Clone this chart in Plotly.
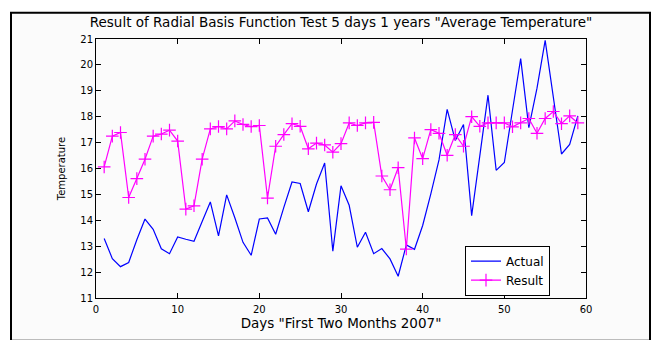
import plotly.graph_objects as go

# Days of the first two months of 2007
days = list(range(1, 60))

# Observed daily average temperature
actual = [
    13.30, 12.52, 12.21, 12.37, 13.25, 14.05, 13.65, 12.90, 12.71, 13.36,
    13.27, 13.19, 13.95, 14.71, 13.40, 14.98, 14.10, 13.15, 12.65, 14.05,
    14.09, 13.46, 14.50, 15.48, 15.42, 14.33, 15.40, 16.21, 12.81, 15.33,
    14.58, 12.96, 13.54, 12.71, 12.91, 12.51, 11.84, 13.05, 12.88, 13.80,
    15.02, 16.33, 18.28, 17.08, 17.70, 14.18, 16.50, 18.83, 15.93, 16.23,
    18.25, 20.24, 17.58, 19.10, 20.95, 18.70, 16.56, 16.93, 18.03,
]

# Radial basis function network output
result = [
    16.06, 17.25, 17.39, 14.88, 15.61, 16.36, 17.25, 17.33, 17.48, 17.06,
    14.43, 14.56, 16.36, 17.53, 17.62, 17.53, 17.84, 17.70, 17.62, 17.66,
    14.86, 16.86, 17.31, 17.73, 17.63, 16.76, 16.98, 16.91, 16.63, 16.96,
    17.76, 17.66, 17.76, 17.78, 15.71, 15.18, 16.03, 12.89, 17.18, 16.38,
    17.50, 17.36, 16.51, 17.31, 16.86, 18.00, 17.63, 17.76, 17.76, 17.76,
    17.61, 17.76, 17.93, 17.36, 17.93, 18.20, 17.73, 18.03, 17.76,
]

x_ticks = [0, 10, 20, 30, 40, 50, 60]
y_ticks = list(range(11, 22))

FONT = "DejaVu Sans"
W, H = 652, 340
ML, MR, MT, MB = 96, 66, 39, 34
PW, PH = W - ML - MR, H - MT - MB


def px_x(p):
    return (p - ML) / PW


def px_y(p):
    return (H - MB - p) / PH


fig = go.Figure()
fig.add_trace(go.Scatter(
    x=days, y=actual, name="Actual", mode="lines",
    line=dict(color="#0000ff", width=1.2),
))
fig.add_trace(go.Scatter(
    x=days, y=result, name="Result", mode="lines+markers",
    line=dict(color="#ff00ff", width=1.2),
    marker=dict(symbol="cross-thin", size=9, color="#ff00ff",
                line=dict(color="#ff00ff", width=1.2)),
))

# outer figure frame
fig.add_shape(
    type="rect", xref="paper", yref="paper", layer="below",
    x0=px_x(11), x1=px_x(650), y0=px_y(350), y1=px_y(12),
    line=dict(color="black", width=2), fillcolor="#fbfbfb",
)

axis_common = dict(
    showline=True, linecolor="black", linewidth=1, mirror="ticks",
    ticks="inside", ticklen=5, tickcolor="black", tickwidth=1,
    showgrid=False, zeroline=False,
    tickfont=dict(family=FONT, size=10, color="black"),
)

fig.update_layout(
    width=W, height=H,
    margin=dict(l=ML, r=MR, t=MT, b=MB),
    paper_bgcolor="white", plot_bgcolor="#fbfbfb",
    font=dict(family=FONT, color="black"),
    title=dict(
        text='Result of Radial Basis Function Test 5 days 1 years "Average Temperature"',
        x=0.5, xref="paper", xanchor="center",
        y=1 - 22 / H, yref="container", yanchor="middle",
        font=dict(family=FONT, size=13.5, color="black"),
    ),
    xaxis=dict(
        range=[0, 60], tickvals=x_ticks, ticklabelstandoff=2,
        title=dict(text='Days "First Two Months 2007"', standoff=4,
                   font=dict(family=FONT, size=13.5, color="black")),
        **axis_common,
    ),
    yaxis=dict(
        range=[11, 21], tickvals=y_ticks,
        title=dict(text="Temperature", standoff=12,
                   font=dict(family=FONT, size=10, color="black")),
        **axis_common,
    ),
    legend=dict(
        x=px_x(465), y=px_y(252), xanchor="left", yanchor="top",
        bgcolor="white", bordercolor="black", borderwidth=1,
        font=dict(family=FONT, size=12, color="black"),
        itemwidth=30, tracegroupgap=0,
    ),
    showlegend=True,
)

fig.write_html("out.html")
